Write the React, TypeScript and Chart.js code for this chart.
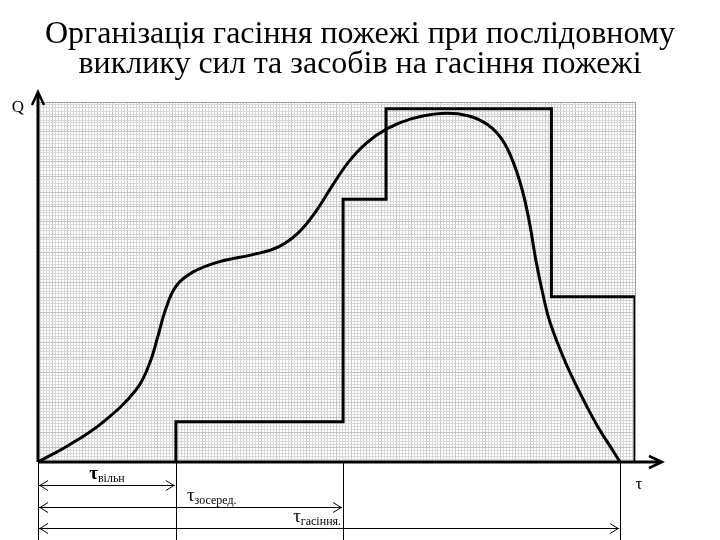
import { useEffect, useRef } from "react";
import { Chart, registerables } from "chart.js";

Chart.register(...registerables);

const titleLines = [
  "Організація гасіння пожежі при послідовному",
  "виклику сил та засобів на гасіння пожежі",
];

// Fire development curve: time τ (arbitrary units 0..100) and heat release Q (0..100)
const fireT = [0, 5.2, 10.9, 16.4, 18.6, 20.1, 21.3, 23.1, 26.0, 30.3, 36.0, 40.2, 43.5, 46.5, 49.2, 52.0, 55.0, 58.5, 62.5, 67.5, 72.0, 75.4, 77.8, 79.6, 81.2, 82.4, 83.4, 84.6, 85.8, 88.4, 91.2, 93.8, 95.9, 97.5];
const fireQ = [0, 4.7, 11.1, 20.0, 27.0, 35.0, 42.0, 48.8, 52.8, 55.6, 57.6, 59.7, 63.5, 69.5, 76.5, 83.3, 88.6, 92.6, 95.3, 96.8, 96.2, 93.6, 89.4, 83.3, 75.0, 65.8, 56.0, 46.4, 38.6, 27.5, 17.8, 9.7, 4.2, 0];

// Forces and means brought in step by step (corner points of the step line)
const stepT = [23.1, 23.1, 51.1, 51.1, 58.3, 58.3, 86.0, 86.0, 100, 100];
const stepQ = [0, 11.2, 11.2, 73.0, 73.0, 98.1, 98.1, 45.9, 45.9, 0];

// Stage durations measured from τ = 0
const stageT = [23.1, 51.1, 97.5];
const stageLabels = ["вільн", "зосеред.", "гасіння."];

const axisLabelQ = "Q";
const axisLabelT = "τ";

const X_STEP = 0.5;
const Y_STEP = 100 / 120;

const FONT = '"Liberation Serif", "Times New Roman", serif';

export default function App() {
  const ref = useRef<HTMLCanvasElement>(null);

  useEffect(() => {
    const canvas = ref.current!;

    const arrowHead = (ctx: CanvasRenderingContext2D, x: number, y: number, dir: number, len: number, half: number) => {
      ctx.beginPath();
      ctx.moveTo(x - dir * len, y - half);
      ctx.lineTo(x, y);
      ctx.lineTo(x - dir * len, y + half);
      ctx.stroke();
    };

    const overlay = {
      id: "overlay",
      afterDraw(chart: any) {
        const { ctx, chartArea: a, scales } = chart;
        const xs = scales.x;
        const ys = scales.y;
        const x0 = xs.getPixelForValue(0);
        const y0 = ys.getPixelForValue(0);
        ctx.save();

        // title
        ctx.fillStyle = "#000";
        ctx.font = `32px ${FONT}`;
        ctx.textAlign = "center";
        ctx.textBaseline = "alphabetic";
        titleLines.forEach((l, i) => ctx.fillText(l, chart.width / 2, 43 + i * 30));

        // plot frame (top / right)
        ctx.strokeStyle = "#a0a0a0";
        ctx.lineWidth = 1;
        ctx.beginPath();
        ctx.moveTo(a.left, a.top + 0.5);
        ctx.lineTo(a.right + 0.5, a.top + 0.5);
        ctx.lineTo(a.right + 0.5, a.bottom);
        ctx.stroke();

        // axes with arrows
        ctx.strokeStyle = "#000";
        ctx.lineWidth = 3;
        ctx.lineCap = "butt";
        ctx.beginPath();
        ctx.moveTo(x0, y0);
        ctx.lineTo(a.right + 26, y0);
        ctx.moveTo(x0, y0);
        ctx.lineTo(x0, a.top - 9);
        ctx.stroke();
        ctx.lineWidth = 2.5;
        ctx.beginPath();
        ctx.moveTo(a.right + 14, y0 - 6);
        ctx.lineTo(a.right + 27, y0);
        ctx.lineTo(a.right + 14, y0 + 6);
        ctx.moveTo(x0 - 6, a.top + 3);
        ctx.lineTo(x0, a.top - 10);
        ctx.lineTo(x0 + 6, a.top + 3);
        ctx.stroke();

        // axis labels
        ctx.fillStyle = "#000";
        ctx.font = `17px ${FONT}`;
        ctx.textAlign = "center";
        ctx.textBaseline = "alphabetic";
        ctx.fillText(axisLabelQ, x0 - 20, a.top + 10);
        ctx.fillText(axisLabelT, a.right + 4, y0 + 27);

        // stage guide lines
        const bottom = chart.height;
        ctx.strokeStyle = "#000";
        ctx.lineWidth = 1;
        const guides = [0, ...stageT];
        guides.forEach((t) => {
          const px = Math.round(xs.getPixelForValue(t)) + 0.5;
          ctx.beginPath();
          ctx.moveTo(px, y0 + 1);
          ctx.lineTo(px, bottom);
          ctx.stroke();
        });

        // dimension arrows and labels
        const rowY = [y0 + 23, y0 + 45, y0 + 66];
        stageT.forEach((t, i) => {
          const xe = xs.getPixelForValue(t);
          const yy = Math.round(rowY[i]) + 0.5;
          ctx.lineWidth = 1;
          ctx.beginPath();
          ctx.moveTo(x0 + 1, yy);
          ctx.lineTo(xe - 1, yy);
          ctx.stroke();
          arrowHead(ctx, x0 + 2, yy, -1, 8, 5);
          arrowHead(ctx, xe - 2, yy, 1, 8, 5);

          // label τ + subscript
          ctx.textAlign = "left";
          ctx.textBaseline = "alphabetic";
          const tFont = `${i === 0 ? "bold " : ""}19px ${FONT}`;
          const sFont = `12px ${FONT}`;
          ctx.font = tFont;
          const wT = ctx.measureText("τ").width;
          ctx.font = sFont;
          const wS = ctx.measureText(stageLabels[i]).width;
          const total = wT + wS;
          let lx: number;
          if (i === 0) lx = (x0 + xe) / 2 - total / 2;
          else if (i === 1) lx = xs.getPixelForValue(stageT[0]) + 11;
          else lx = xs.getPixelForValue(stageT[1]) - total - 2;
          const by = yy - 7;
          ctx.font = tFont;
          ctx.fillText("τ", lx, by);
          ctx.font = sFont;
          ctx.fillText(stageLabels[i], lx + wT, by + 3);
        });

        ctx.restore();
      },
    };

    const gridColor = (step: number) => (c: any) => {
      const v = c.tick ? c.tick.value : 0;
      const idx = Math.round(v / step);
      return idx % 5 === 0 ? "#c4c4c4" : "#d8d8d8";
    };

    const chart = new Chart(canvas, {
      type: "line",
      data: {
        datasets: [
          {
            data: fireT.map((t, i) => ({ x: t, y: fireQ[i] })),
            borderColor: "#000",
            borderWidth: 3,
            pointRadius: 0,
            tension: 0.4,
            fill: false,
          },
          {
            data: stepT.map((t, i) => ({ x: t, y: stepQ[i] })),
            borderColor: "#000",
            borderWidth: 3,
            pointRadius: 0,
            tension: 0,
            borderJoinStyle: "miter",
            fill: false,
          },
        ],
      },
      options: {
        responsive: false,
        animation: false,
        layout: { padding: { left: 38, right: 85, top: 102, bottom: 78 } },
        plugins: {
          legend: { display: false },
          title: { display: false },
          tooltip: { enabled: false },
        },
        scales: {
          x: {
            type: "linear",
            min: 0,
            max: 100,
            ticks: { display: false, stepSize: X_STEP },
            grid: { drawTicks: false, color: gridColor(X_STEP), lineWidth: 1 },
            border: { display: false },
          },
          y: {
            type: "linear",
            min: 0,
            max: 100,
            ticks: { display: false, stepSize: Y_STEP },
            grid: { drawTicks: false, color: gridColor(Y_STEP), lineWidth: 1 },
            border: { display: false },
          },
        },
      },
      plugins: [overlay],
    } as any);

    let alive = true;
    if ((document as any).fonts && (document as any).fonts.load) {
      Promise.all([
        (document as any).fonts.load(`32px ${FONT}`),
        (document as any).fonts.load(`bold 19px ${FONT}`),
      ]).then(() => {
        if (alive) chart.draw();
      }).catch(() => {});
    }

    return () => {
      alive = false;
      chart.destroy();
    };
  }, []);

  return (
    <div style={{ position: "fixed", left: 0, top: 0, width: 720, height: 540, background: "#fff" }}>
      <canvas ref={ref} width={720} height={540} style={{ display: "block" }} />
    </div>
  );
}
